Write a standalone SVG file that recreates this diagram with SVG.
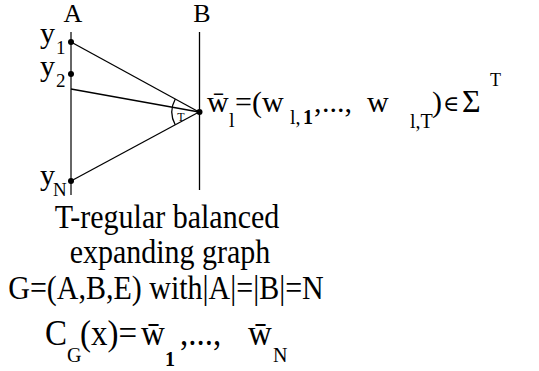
<svg xmlns="http://www.w3.org/2000/svg" width="539" height="371" viewBox="0 0 539 371">
<style>
.lab{font-size:26px}
.big{font-size:30px}
.bot{font-size:33px}
.sub{font-size:20px}
.bold{font-weight:bold}
.edge{stroke:#000;stroke-width:1.3;fill:none}
</style>
<rect width="539" height="371" fill="#fff"/>
<g font-family="Liberation Serif, DejaVu Serif, serif" fill="#000">
<g id="partA">
<line x1="71" y1="32" x2="71" y2="195" stroke="#666" stroke-width="2"/>
<text class="lab" x="73" y="22" text-anchor="middle">A</text>
</g>
<g id="partB">
<line x1="199.5" y1="32" x2="199.5" y2="190" stroke="#000" stroke-width="1.3"/>
<text class="lab" x="202" y="22" text-anchor="middle">B</text>
</g>
<g id="connectors">
<line class="edge" x1="71" y1="42" x2="199" y2="112"/>
<line class="edge" x1="71" y1="89" x2="199" y2="112"/>
<line class="edge" x1="71" y1="181" x2="199" y2="112"/>
<path class="edge" d="M175.3,99 A27,27 0 0 0 175.2,124.8"/>
<text x="181" y="121" font-size="12" text-anchor="middle">T</text>
</g>
<g id="y1">
<circle cx="71" cy="42" r="3"/>
<text x="40" y="43" font-size="30">y</text>
<text x="56" y="54" font-size="19">1</text>
</g>
<g id="y2">
<circle cx="71" cy="74" r="3"/>
<text x="40" y="76" font-size="30">y</text>
<text x="56" y="87" font-size="19">2</text>
</g>
<g id="yN">
<circle cx="71" cy="181" r="3"/>
<text x="40" y="185" font-size="30">y</text>
<text x="53" y="196" font-size="19">N</text>
</g>
<g id="w1">
<circle cx="199.5" cy="112" r="3"/>
<text class="big" x="207" y="112">w̄</text>
<text class="sub" x="229" y="127">l</text>
<text class="big" x="235" y="112">=(w</text>
<text class="sub" x="290" y="124">l,</text>
<text class="sub bold" x="303" y="124" font-size="22">1</text>
<text class="big" x="314" y="112">,</text>
<text class="big" x="322" y="112">...,</text>
<text class="big" x="367" y="112">w</text>
<text class="sub" x="410" y="128">l,T</text>
<text class="big" x="432" y="112">)</text>
<text x="443" y="111" font-size="22">∈</text>
<text x="462" y="112" font-size="32">Σ</text>
<text x="490" y="86" font-size="18">T</text>
</g>
<g id="caption">
<text class="big" transform="translate(167,228) scale(1,1.1)" text-anchor="middle">T-regular balanced</text>
<text class="big" transform="translate(170,263) scale(1,1.1)" text-anchor="middle">expanding graph</text>
<text class="big" transform="translate(166,299) scale(1,1.1)" text-anchor="middle">G=(A,B,E) with|A|=|B|=N</text>
</g>
<g id="code">
<text class="bot" transform="translate(45,345) scale(1,1.1)">C</text>
<text class="sub" x="67" y="362">G</text>
<text class="bot" transform="translate(80,345) scale(1,1.1)">(x)=</text>
<text class="bot" transform="translate(141,345) scale(1,1.1)">w̄</text>
<text class="sub bold" x="165" y="366" font-size="23">1</text>
<text class="bot" transform="translate(180,345) scale(1,1.1)">,...,</text>
<text class="bot" transform="translate(248,345) scale(1,1.1)">w̄</text>
<text class="sub" x="273" y="362" font-size="22">N</text>
</g>
</g>
</svg>
